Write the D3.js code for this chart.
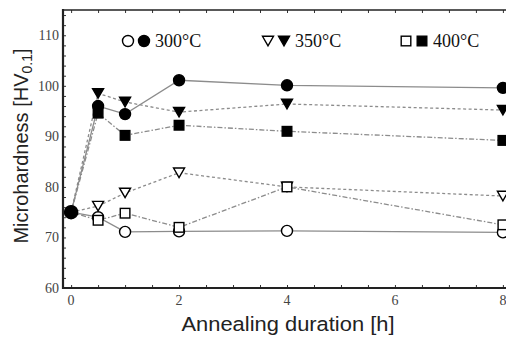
<!DOCTYPE html>
<html><head><meta charset="utf-8">
<script src="https://cdn.jsdelivr.net/npm/d3@7"></script>
<style>body{margin:0;background:#fff}svg{display:block}</style>
</head><body>
<svg id="c" width="506" height="337"></svg>
<script>
const hours = [0, 0.5, 1, 2, 4, 8];
const open300 = [75, 74.0, 71.1, 71.2, 71.3, 71.0];
const filled300 = [75, 96.0, 94.4, 101.1, 100.1, 99.6];
const open350 = [75, 76.2, 78.8, 82.8, 80.0, 78.2];
const filled350 = [75, 98.5, 96.8, 94.8, 96.4, 95.2];
const open400 = [75, 73.4, 74.8, 72.0, 80.0, 72.5];
const filled400 = [75, 94.6, 90.2, 92.2, 91.0, 89.2];
const xTicks = [0, 2, 4, 6, 8];
const yTicks = [60, 70, 80, 90, 100, 110];
const legendLabels = ["300°C", "350°C", "400°C"];

const svg = d3.select("#c");
const x = d3.scaleLinear().domain([-0.15, 8.15]).range([63, 511]);
const y = d3.scaleLinear().domain([60, 115]).range([288, 10]);

const series = [
  {vals: filled300, shape: "circle", fill: true, dash: null},
  {vals: filled350, shape: "tri", fill: true, dash: "3,2.5"},
  {vals: filled400, shape: "square", fill: true, dash: "5,2,1.5,2"},
  {vals: open300, shape: "circle", fill: false, dash: null},
  {vals: open350, shape: "tri", fill: false, dash: "3,2.5"},
  {vals: open400, shape: "square", fill: false, dash: "5,2,1.5,2"}
];

const line = d3.line().x((d,i)=>x(hours[i])).y(d=>y(d));
series.forEach(s=>{
  svg.append("path").attr("d", line(s.vals)).attr("fill","none")
    .attr("stroke", "#8c8c8c").attr("stroke-width", 1.3)
    .attr("stroke-dasharray", s.dash);
});

function marker(g, shape, fill, cx, cy, size) {
  const f = fill ? "#000" : "#fff";
  if (shape === "circle") {
    g.append("circle").attr("cx",cx).attr("cy",cy).attr("r",size*0.55)
      .attr("fill",f).attr("stroke","#000").attr("stroke-width",1.4);
  } else if (shape === "tri") {
    const h = size*0.95, w = size*0.55;
    g.append("path").attr("d", `M${cx-w},${cy-h/2}L${cx+w},${cy-h/2}L${cx},${cy+h/2}Z`)
      .attr("fill",f).attr("stroke","#000").attr("stroke-width",1.4);
  } else {
    const w = size*0.48;
    g.append("rect").attr("x",cx-w).attr("y",cy-w).attr("width",2*w).attr("height",2*w)
      .attr("fill",f).attr("stroke","#000").attr("stroke-width",1.4);
  }
}
const mg = svg.append("g");
[3,4,5,2,1,0].forEach(k=>{
  const s = series[k];
  s.vals.forEach((v,i)=>{
    if (i === 0 && k !== 0) return; // common starting point drawn once
    marker(mg, s.shape, s.fill, x(hours[i]), y(v), i === 0 ? 12 : 10);
  });
});

// axes
const ax = svg.append("g").attr("transform","translate(0,288)");
ax.call(d3.axisBottom(x).tickValues(d3.range(0,8.01,0.5)).tickSize(-3).tickFormat(""));
ax.call(g=>g.select(".domain").remove());
ax.selectAll("line").attr("stroke","#333");
const axT = svg.append("g").attr("transform","translate(0,10)");
axT.call(d3.axisTop(x).tickValues(d3.range(0,8.01,0.5)).tickSize(-3).tickFormat(""));
axT.call(g=>g.select(".domain").remove());
axT.selectAll("line").attr("stroke","#333");
const ay = svg.append("g").attr("transform","translate(63,0)");
ay.call(d3.axisLeft(y).tickValues(d3.range(60,115.01,2)).tickSize(-3).tickFormat(""));
ay.call(g=>g.select(".domain").remove());
ay.selectAll("line").attr("stroke","#333");

svg.append("line").attr("x1",63).attr("x2",506).attr("y1",10).attr("y2",10).attr("stroke","#222").attr("stroke-width",1.5);
svg.append("line").attr("x1",62).attr("x2",506).attr("y1",288).attr("y2",288).attr("stroke","#222").attr("stroke-width",2.2);
svg.append("line").attr("x1",63).attr("x2",63).attr("y1",9).attr("y2",289).attr("stroke","#222").attr("stroke-width",2.2);

// tick labels
svg.append("g").selectAll("text").data(xTicks).join("text")
  .attr("x",d=>x(d)).attr("y",305).attr("text-anchor","middle")
  .attr("font-family","Liberation Serif").attr("font-size",14).attr("fill","#444").text(d=>d);
svg.append("g").selectAll("text").data(yTicks).join("text")
  .attr("x",59).attr("y",d=>y(d)+5).attr("text-anchor","end")
  .attr("font-family","Liberation Serif").attr("font-size",14).attr("fill","#444").text(d=>d);

// axis titles
svg.append("text").attr("x",288).attr("y",331).attr("text-anchor","middle")
  .attr("font-family","Liberation Sans").attr("font-size",20.5).attr("fill","#222")
  .attr("textLength",213).attr("lengthAdjust","spacingAndGlyphs")
  .text("Annealing duration [h]");
const yl = svg.append("text").attr("transform","translate(28,146) rotate(-90)")
  .attr("text-anchor","middle").attr("font-family","Liberation Sans").attr("font-size",20).attr("fill","#222");
yl.append("tspan").text("Microhardness [HV");
yl.append("tspan").attr("font-size",14).attr("dy",4).text("0.1");
yl.append("tspan").attr("dy",-4).text("]");

// legend
const legX = [128, 268, 406];
const shapes = ["circle","tri","square"];
legendLabels.forEach((t,i)=>{
  marker(svg, shapes[i], false, legX[i], 41, 10);
  marker(svg, shapes[i], true, legX[i]+16, 41, 10);
  svg.append("text").attr("x",legX[i]+27).attr("y",47)
    .attr("font-family","Liberation Serif").attr("font-size",18).attr("fill","#111").text(t);
});
</script>
</body></html>
